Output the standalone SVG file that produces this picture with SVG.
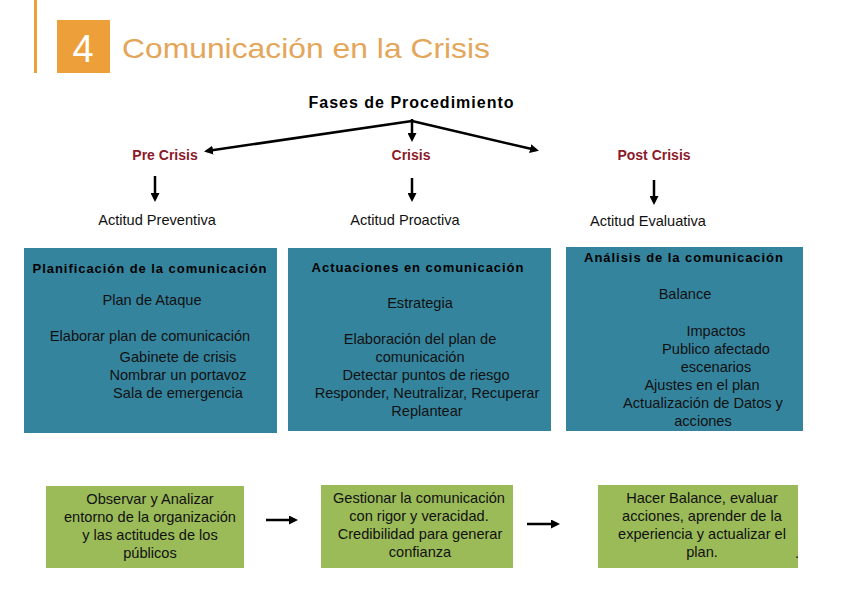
<svg xmlns="http://www.w3.org/2000/svg" width="842" height="596" viewBox="0 0 842 596">
<defs>
<marker id="ah" markerWidth="9" markerHeight="9" refX="6" refY="4.5" orient="auto" markerUnits="userSpaceOnUse"><path d="M0,0 L9,4.5 L0,9 Z" fill="#000"/></marker>
<style>
.t{font-family:"Liberation Sans",Arial,sans-serif;font-size:14.6px;fill:#111;text-anchor:middle}
.h{font-family:"Liberation Sans",Arial,sans-serif;font-size:13px;font-weight:bold;fill:#000;text-anchor:middle;letter-spacing:0.95px}
.ph{font-family:"Liberation Sans",Arial,sans-serif;font-size:14px;font-weight:bold;fill:#8B1A2A;text-anchor:middle}
.blue{fill:#35849E}
.green{fill:#9BBB59}
.ln{stroke:#000;stroke-width:2.5;fill:none;marker-end:url(#ah)}
</style>
</defs>
<rect width="842" height="596" fill="#fff"/>
<g id="title">
<rect x="34" y="0" width="3" height="73" fill="#E8A13D"/>
<rect x="57" y="20" width="53" height="53" fill="#EDA03A"/>
<text x="83" y="62" font-family="Liberation Sans,Arial,sans-serif" font-size="38" fill="#fff" text-anchor="middle">4</text>
<text x="122" y="58" font-family="Liberation Sans,Arial,sans-serif" font-size="28" fill="#E4A65A" textLength="368" lengthAdjust="spacingAndGlyphs">Comunicación en la Crisis</text>
</g>
<g id="root"><text x="411" y="108" font-family="Liberation Sans,Arial,sans-serif" font-size="16" font-weight="bold" text-anchor="middle" textLength="205" lengthAdjust="spacing">Fases de Procedimiento</text></g>
<g id="connectors">
<line class="ln" x1="412" y1="121" x2="207" y2="151"/>
<line class="ln" x1="412" y1="121" x2="536" y2="150"/>
<line class="ln" x1="412" y1="119" x2="412" y2="139"/>
<line class="ln" x1="155" y1="176" x2="155" y2="199"/>
<line class="ln" x1="412" y1="178" x2="412" y2="199"/>
<line class="ln" x1="654" y1="180" x2="654" y2="202"/>
<line class="ln" x1="266" y1="520" x2="295" y2="520"/>
<line class="ln" x1="527" y1="524" x2="557" y2="524"/>
</g>
<g id="pre"><text class="ph" x="165" y="160">Pre Crisis</text></g>
<g id="crisis"><text class="ph" x="411" y="160">Crisis</text></g>
<g id="post"><text class="ph" x="654" y="160">Post Crisis</text></g>
<g id="att1"><text class="t" x="157" y="225">Actitud Preventiva</text></g>
<g id="att2"><text class="t" x="405" y="225">Actitud Proactiva</text></g>
<g id="att3"><text class="t" x="648" y="226">Actitud Evaluativa</text></g>
<g id="box1">
<rect class="blue" x="24" y="248" width="253" height="185"/>
<text class="h" x="150" y="273">Planificación de la comunicación</text>
<text class="t" x="152" y="305">Plan de Ataque</text>
<text class="t" x="150" y="341">Elaborar plan de comunicación</text>
<text class="t" x="178" y="362">Gabinete de crisis</text>
<text class="t" x="178" y="380">Nombrar un portavoz</text>
<text class="t" x="178" y="398">Sala de emergencia</text>
</g>
<g id="box2">
<rect class="blue" x="288" y="248" width="263" height="183"/>
<text class="h" x="418" y="272">Actuaciones en comunicación</text>
<text class="t" x="420" y="308">Estrategia</text>
<text class="t" x="420" y="344">Elaboración del plan de</text>
<text class="t" x="420" y="362">comunicación</text>
<text class="t" x="426" y="380">Detectar puntos de riesgo</text>
<text class="t" x="427" y="398">Responder, Neutralizar, Recuperar</text>
<text class="t" x="427" y="416">Replantear</text>
</g>
<g id="box3">
<rect class="blue" x="566" y="247" width="237" height="184"/>
<text class="h" x="684" y="262">Análisis de la comunicación</text>
<text class="t" x="685" y="299">Balance</text>
<text class="t" x="716" y="336">Impactos</text>
<text class="t" x="716" y="354">Publico afectado</text>
<text class="t" x="716" y="372">escenarios</text>
<text class="t" x="702" y="390">Ajustes en el plan</text>
<text class="t" x="703" y="408">Actualización de Datos y</text>
<text class="t" x="703" y="426">acciones</text>
</g>
<g id="g1">
<rect class="green" x="46" y="486" width="198" height="82"/>
<text class="t" x="150" y="504">Observar y Analizar</text>
<text class="t" x="150" y="522">entorno de la organización</text>
<text class="t" x="150" y="540">y las actitudes de los</text>
<text class="t" x="150" y="558">públicos</text>
</g>
<g id="g2">
<rect class="green" x="321" y="485" width="192" height="83"/>
<text class="t" x="419" y="503">Gestionar la comunicación</text>
<text class="t" x="419" y="521">con rigor y veracidad.</text>
<text class="t" x="420" y="539">Credibilidad para generar</text>
<text class="t" x="420" y="557">confianza</text>
</g>
<g id="g3">
<rect class="green" x="598" y="485" width="200" height="83"/>
<text class="t" x="702" y="503">Hacer Balance, evaluar</text>
<text class="t" x="702" y="521">acciones, aprender de la</text>
<text class="t" x="702" y="539">experiencia y actualizar el</text>
<text class="t" x="702" y="557">plan.</text>
<text class="t" x="797" y="558">.</text>
</g>
</svg>
